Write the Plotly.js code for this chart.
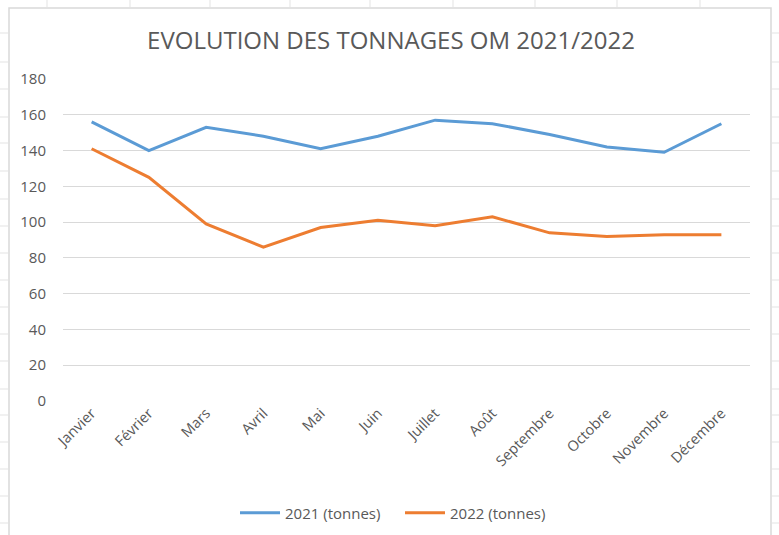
<!DOCTYPE html>
<html>
<head>
<meta charset="utf-8">
<script src="https://cdn.plot.ly/plotly-3.0.1.min.js"></script>
<style>html,body{margin:0;padding:0;background:#fff;}#chart{width:779px;height:535px;}</style>
</head>
<body>
<div id="chart"></div>
<script>
const months = ["Janvier","Février","Mars","Avril","Mai","Juin","Juillet","Août","Septembre","Octobre","Novembre","Décembre"];
const tonnes2021 = [156, 140, 153, 148, 141, 148, 157, 155, 149, 142, 139, 155];
const tonnes2022 = [141, 125, 99, 86, 97, 101, 98, 103, 94, 92, 93, 93];
const yTicks = [0, 20, 40, 60, 80, 100, 120, 140, 160, 180];

const W = 779, H = 535;
const M = {l: 63, r: 29, t: 79, b: 134};
const pw = W - M.l - M.r, ph = H - M.t - M.b;
const px = v => (v - M.l) / pw;
const py = v => (H - M.b - v) / ph;

const cellLine = '#e3e3e3';
const shapes = [];
const cellRows = [33, 62, 89, 117, 143, 171, 199, 226, 253, 280, 307, 334, 361, 389, 415, 442, 469, 496, 523];
cellRows.forEach(r => {
  shapes.push({type: 'line', xref: 'paper', yref: 'paper', x0: px(0), x1: px(8), y0: py(r), y1: py(r), line: {color: cellLine, width: 1}, layer: 'below'});
  shapes.push({type: 'line', xref: 'paper', yref: 'paper', x0: px(772), x1: px(779), y0: py(r), y1: py(r), line: {color: cellLine, width: 1}, layer: 'below'});
});
[47, 130, 210, 290, 370, 453, 535, 617, 700].forEach(c => {
  shapes.push({type: 'line', xref: 'paper', yref: 'paper', x0: px(c), x1: px(c), y0: py(0), y1: py(7), line: {color: cellLine, width: 1}, layer: 'below'});
});
shapes.push({type: 'rect', xref: 'paper', yref: 'paper', x0: px(9), x1: px(771), y0: py(8), y1: py(545), line: {color: '#d9d9d9', width: 1.5}, fillcolor: 'rgba(0,0,0,0)', layer: 'below'});

const textColor = '#595959';
const font = 'Open Sans, Noto Sans, sans-serif';

const traces = [
  {x: months, y: tonnes2021, type: 'scatter', mode: 'lines', name: '2021 (tonnes)', line: {color: '#5b9bd5', width: 3}},
  {x: months, y: tonnes2022, type: 'scatter', mode: 'lines', name: '2022 (tonnes)', line: {color: '#ed7d31', width: 3}}
];

const layout = {
  width: W, height: H,
  margin: M,
  paper_bgcolor: '#ffffff', plot_bgcolor: '#ffffff',
  font: {family: font, color: textColor, size: 15},
  title: {text: 'EVOLUTION DES TONNAGES OM 2021/2022', font: {family: font, size: 24, color: textColor}, x: 391 / W, xref: 'container', xanchor: 'center', y: 1 - 41 / H, yref: 'container', yanchor: 'middle'},
  xaxis: {type: 'category', range: [-0.5, 11.5], tickangle: -45, showgrid: false, zeroline: false, showline: false, ticks: '', tickfont: {size: 14.5, color: textColor}, fixedrange: true},
  yaxis: {range: [0, 180], tickvals: yTicks, showgrid: true, gridcolor: '#d9d9d9', gridwidth: 1, zeroline: false, showline: false, ticks: '', ticklabelstandoff: 16, tickfont: {size: 15, color: textColor}, fixedrange: true},
  showlegend: true,
  legend: {orientation: 'h', xref: 'container', yref: 'container', x: 400 / W, xanchor: 'center', y: 1 - 513 / H, yanchor: 'middle', font: {size: 15, color: textColor}, itemwidth: 40, entrywidth: 110, tracegroupgap: 0},
  shapes: shapes
};

Plotly.newPlot('chart', traces, layout, {displayModeBar: false, staticPlot: true});
</script>
</body>
</html>
